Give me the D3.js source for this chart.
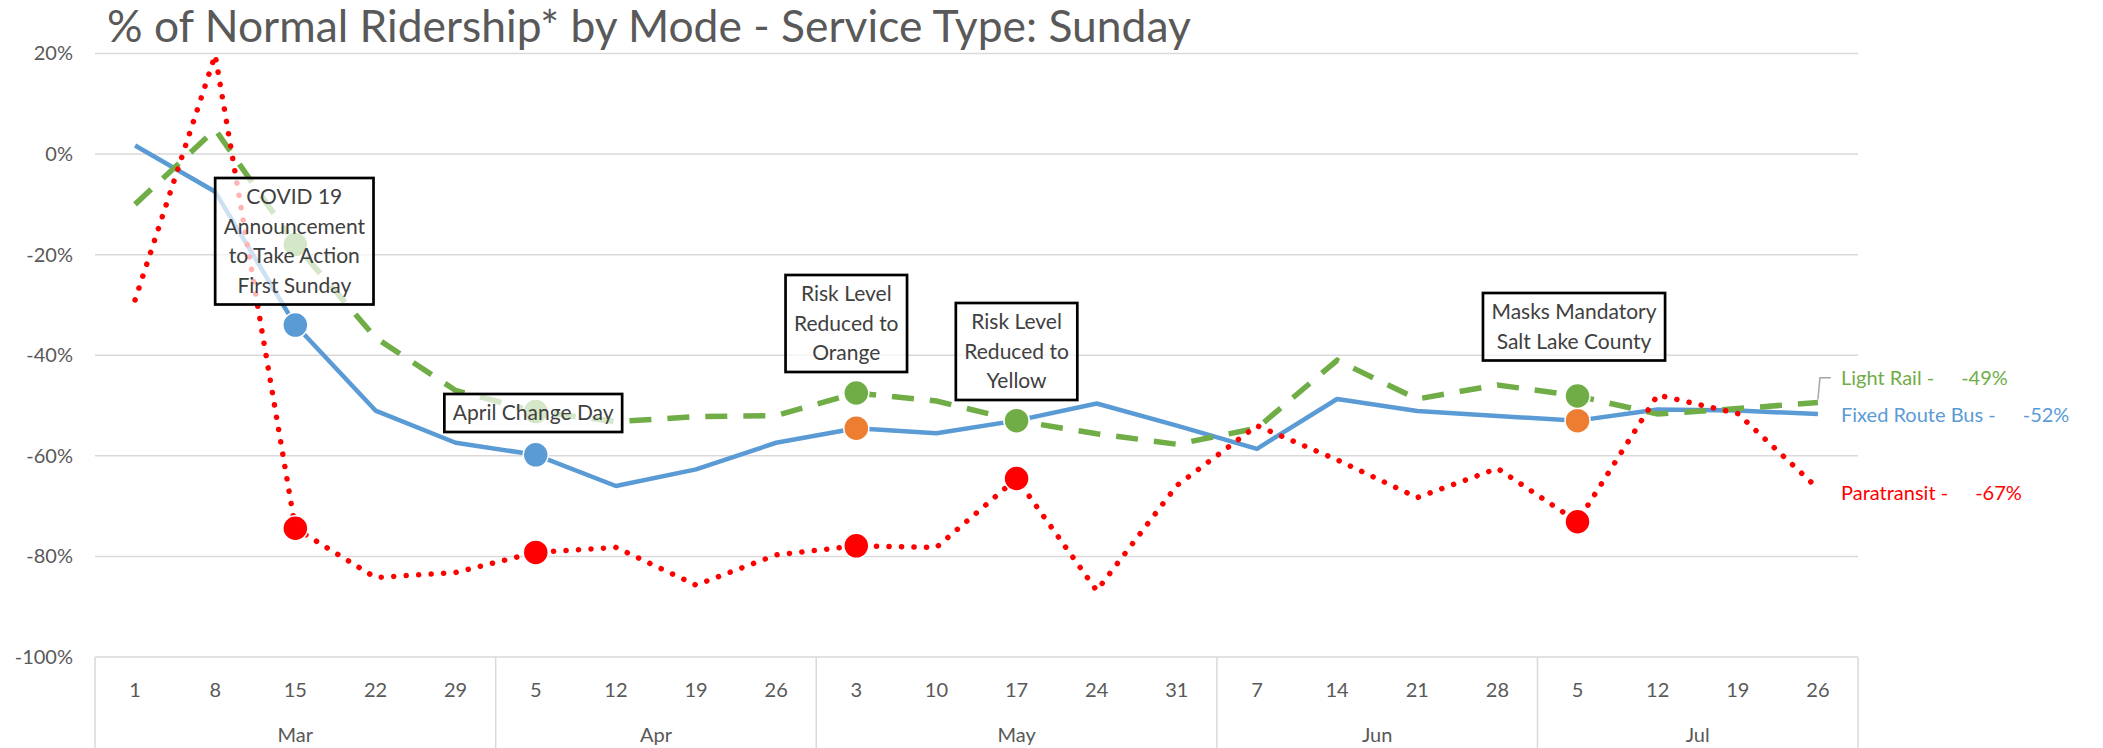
<!DOCTYPE html>
<html><head><meta charset="utf-8">
<script src="https://cdn.jsdelivr.net/npm/d3@7"></script>
<style>
html,body{margin:0;padding:0;background:#fff;}
svg{display:block;font-family:Lato,"Open Sans",sans-serif;}
</style></head><body>
<svg id="chart" width="2103" height="748"></svg>
<script>
// ---------------- DATA ----------------
const titleText = "% of Normal Ridership* by Mode - Service Type: Sunday";
const dayLabels = ["1","8","15","22","29","5","12","19","26","3","10","17","24","31","7","14","21","28","5","12","19","26"];
const monthLabels = ["Mar","Apr","May","Jun","Jul"];
const monthSpans = [5,4,5,4,4];
const yTicks = [20,0,-20,-40,-60,-80,-100];

const busValues  = [1.7,-7.5,-34,-51,-57.4,-59.8,-66,-62.7,-57.4,-54.5,-55.5,-53,-49.6,-54,-58.6,-48.7,-51.1,-52.1,-53,-50.8,-51,-51.7];
const railValues = [-10,4.9,-18,-36.5,-47,-51.2,-53.2,-52.2,-52,-47.5,-49.1,-53,-55.6,-57.7,-54.5,-41,-48.7,-45.9,-48.1,-51.7,-50.6,-49.4];
const paraValues = [-29,19.7,-74.4,-84.2,-83.2,-79.2,-78.2,-85.7,-79.7,-77.9,-78.2,-64.5,-86.8,-65.9,-54,-60.8,-68.3,-62.5,-73.1,-47.9,-51.6,-66.5];

const seriesNames = ["Light Rail -","Fixed Route Bus -","Paratransit -"];
const endLabels = ["-49%","-52%","-67%"];

const eventIndex = [2,5,9,11,18];
const eventText = [
  ["COVID 19","Announcement","to Take Action","First Sunday"],
  ["April Change Day"],
  ["Risk Level","Reduced to","Orange"],
  ["Risk Level","Reduced to","Yellow"],
  ["Masks Mandatory","Salt Lake County"]
];
const eventBusMarker = ["bus","bus","orange","bus","orange"];

// ---------------- LAYOUT / STYLE ----------------
const C = {blue:"#5B9BD5", green:"#70AD47", red:"#FF0000", orange:"#ED7D31",
           grid:"#d9d9d9", text:"#595959", box:"#404040"};
const plot = {left:95, right:1858, top:53.5, bottom:657};
const boxLayout = [{dx:-1,top:178},{dx:-2.5,top:394},{dx:-10,top:275},{dx:0,top:303},{dx:-3.5,top:293}];
const labelY = [377.7, 415, 493.3];

const svg = d3.select("#chart");
const H = 748;

const x = d3.scaleBand().domain(d3.range(dayLabels.length)).range([plot.left, plot.right]).padding(0);
const y = d3.scaleLinear().domain([-100,20]).range([plot.bottom, plot.top]);
const cx = i => x(i) + x.bandwidth()/2;

// title
const title = svg.append("text").attr("x",107).attr("y",42).attr("fill",C.text)
  .attr("font-size",40).text(titleText);
const tw = title.node().getComputedTextLength();
title.attr("font-size", 40*1084/tw);

// gridlines
svg.append("g").selectAll("line").data(yTicks).join("line")
  .attr("x1",plot.left).attr("x2",plot.right)
  .attr("y1",d=>y(d)).attr("y2",d=>y(d))
  .attr("stroke",C.grid).attr("stroke-width",1.5);

// y axis
const ya = svg.append("g").attr("transform",`translate(${plot.left},0)`)
  .call(d3.axisLeft(y).tickValues(yTicks).tickFormat(d=>d+"%").tickSize(0).tickPadding(22));
ya.select(".domain").remove();
ya.attr("font-family",null).attr("font-size",null);
ya.selectAll("text").attr("fill",C.text).attr("font-size",20);

// x axis (days)
const xa = svg.append("g").attr("transform",`translate(0,${plot.bottom})`)
  .call(d3.axisBottom(x).tickFormat(i=>dayLabels[i]).tickSize(0).tickPadding(26));
xa.select(".domain").remove();
xa.attr("font-family",null).attr("font-size",null);
xa.selectAll("text").attr("fill",C.text).attr("font-size",20);

// month groups
let starts = []; let acc = 0;
monthSpans.forEach(s=>{starts.push(acc); acc+=s;});
const bounds = starts.map(s=>x(s)).concat([plot.right]);
svg.append("g").selectAll("line").data(bounds).join("line")
  .attr("x1",d=>d).attr("x2",d=>d).attr("y1",plot.bottom).attr("y2",H)
  .attr("stroke",C.grid).attr("stroke-width",1.5);
svg.append("g").selectAll("text").data(monthLabels).join("text")
  .attr("x",(d,k)=>(x(starts[k]) + x(starts[k]+monthSpans[k]-1)+x.bandwidth())/2)
  .attr("y",742).attr("text-anchor","middle").attr("fill",C.text).attr("font-size",20)
  .text(d=>d);

// lines
const line = d3.line().x((d,i)=>cx(i)).y(d=>y(d));

svg.append("path").datum(busValues).attr("d",line)
  .attr("fill","none").attr("stroke",C.blue).attr("stroke-width",4.5).attr("stroke-linejoin","round");
svg.append("path").datum(railValues).attr("d",line)
  .attr("fill","none").attr("stroke",C.green).attr("stroke-width",5.5)
  .attr("stroke-dasharray","22 16");
svg.append("path").datum(paraValues).attr("d",line)
  .attr("fill","none").attr("stroke",C.red).attr("stroke-width",5.5)
  .attr("stroke-linecap","round").attr("stroke-dasharray","0.1 12.4");

// markers
const markers = [];
eventIndex.forEach((i,k)=>{
  markers.push({i, v:busValues[i], c: eventBusMarker[k]==="orange"?C.orange:C.blue});
  markers.push({i, v:paraValues[i], c:C.red});
  markers.push({i, v:railValues[i], c:C.green});
});
svg.append("g").selectAll("circle").data(markers).join("circle")
  .attr("cx",d=>cx(d.i)).attr("cy",d=>y(d.v)).attr("r",12.5)
  .attr("fill",d=>d.c).attr("stroke","#fff").attr("stroke-width",1.5);

// annotation boxes
const lineH = 29.5;
eventIndex.forEach((i,k)=>{
  const g = svg.append("g");
  const L = boxLayout[k];
  const bx = cx(i) + L.dx;
  const rect = g.append("rect");
  const texts = g.selectAll("text").data(eventText[k]).join("text")
    .attr("x",bx).attr("y",(d,j)=>L.top + 4.25 + lineH*(j+0.5) + 7)
    .attr("text-anchor","middle").attr("fill",C.box).attr("font-size",21).text(d=>d);
  let mw = 0; texts.each(function(){mw = Math.max(mw,this.getComputedTextLength());});
  const w = mw + 17, h = eventText[k].length*lineH + 8.5;
  rect.attr("x",bx-w/2).attr("y",L.top).attr("width",w).attr("height",h)
    .attr("fill","#fff").attr("fill-opacity",0.7).attr("stroke","#000").attr("stroke-width",2.7);
});

// end labels
const lastI = dayLabels.length-1;
const endX = cx(lastI);
svg.append("path")
  .attr("d",`M${endX},${y(railValues[lastI])-3}L${endX+2},${labelY[0]}L${endX+13},${labelY[0]}`)
  .attr("fill","none").attr("stroke","#a6a6a6").attr("stroke-width",1.5);
const labColors = [C.green, C.blue, C.red];
seriesNames.forEach((n,k)=>{
  const t = svg.append("text").attr("x",1841).attr("y",labelY[k]+7)
    .attr("fill",labColors[k]).attr("font-size",20);
  t.append("tspan").text(n);
  t.append("tspan").attr("dx",27).text(endLabels[k]);
});
</script>
</body></html>
